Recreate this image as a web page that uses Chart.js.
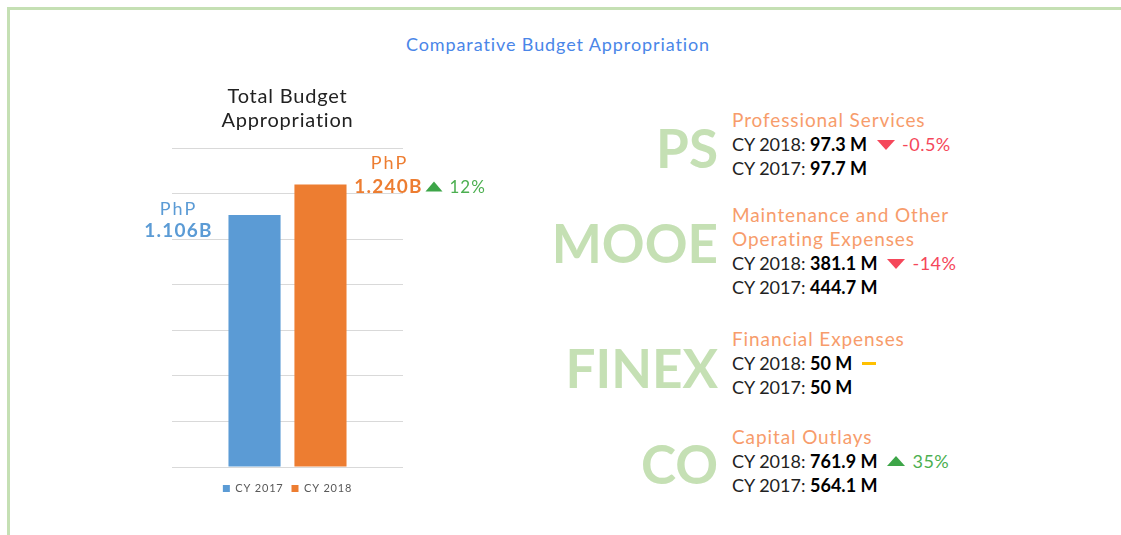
<!DOCTYPE html>
<html>
<head>
<meta charset="utf-8">
<script src="https://cdn.jsdelivr.net/npm/chart.js@4"></script>
<style>
  body { margin: 0; width: 1121px; height: 535px; background: #fff; font-family: Lato, sans-serif; overflow: hidden; position: relative; }
  .frame { position: absolute; left: 7px; top: 7px; right: 0; bottom: 0; border-top: 3px solid #c5e0b4; border-left: 3px solid #c5e0b4; }
  .heading { position: absolute; left: 358px; width: 400px; top: 33px; text-align: center; color: #4a86e8; font-size: 18px; letter-spacing: 0.9px; }
  #chartBox { position: absolute; left: 140px; top: 70px; width: 370px; height: 440px; }
  .abbr { position: absolute; right: 403px; color: #c5e0b4; font-weight: 700; font-size: 53px; line-height: 60px; }
  .info { position: absolute; left: 732px; font-size: 18px; line-height: 24px; color: #222; }
  .info .name { color: #f79c6b; font-size: 19px; letter-spacing: 0.9px; }
  .info b { color: #000; font-weight: 700; }
  .chg { display: inline-block; margin-left: 10px; letter-spacing: 0.5px; }
  .tri-down { display: inline-block; width: 0; height: 0; border-left: 9px solid transparent; border-right: 9px solid transparent; border-top: 10px solid #f5475a; margin-right: 7px; vertical-align: 1px; }
  .tri-up { display: inline-block; width: 0; height: 0; border-left: 9px solid transparent; border-right: 9px solid transparent; border-bottom: 10px solid #3da548; margin-right: 7px; vertical-align: 2px; }
  .dash { display: inline-block; width: 14px; height: 3px; background: #ffc000; vertical-align: 5px; }
</style>
</head>
<body>
<div class="frame"></div>
<div class="heading">Comparative Budget Appropriation</div>
<div id="chartBox"><canvas id="budgetChart"></canvas></div>
<div id="panel"></div>
<script>
// total budget, in billions of pesos
const years = ['CY 2017', 'CY 2018'];
const totals = [1.106, 1.240];
const totalLabels = ['1.106B', '1.240B'];
const totalChange = '12%';
const yTicks = { min: 0, max: 1.4, step: 0.2 };

// breakdown per expense class, in millions
const abbrs = ['PS', 'MOOE', 'FINEX', 'CO'];
const names = [['Professional Services'], ['Maintenance and Other', 'Operating Expenses'], ['Financial Expenses'], ['Capital Outlays']];
const cy2018 = ['97.3 M', '381.1 M', '50 M', '761.9 M'];
const cy2017 = ['97.7 M', '444.7 M', '50 M', '564.1 M'];
const changes = ['-0.5%', '-14%', '', '35%'];
const trends = ['down', 'down', 'flat', 'up'];

const barColors = ['#5b9bd5', '#ed7d31'];

// right panel
const groupTops = [108, 203, 327, 425];
const abbrTops = [118, 213, 338, 434];
const panel = document.getElementById('panel');
abbrs.forEach((a, i) => {
    const ab = document.createElement('div');
    ab.className = 'abbr';
    ab.style.top = abbrTops[i] + 'px';
    ab.textContent = a;
    panel.appendChild(ab);

    const info = document.createElement('div');
    info.className = 'info';
    info.style.top = groupTops[i] + 'px';
    let html = names[i].map(n => '<div class="name">' + n + '</div>').join('');
    let mark = '';
    if (trends[i] === 'down') mark = '<span class="chg" style="color:#f5475a"><span class="tri-down"></span>' + changes[i] + '</span>';
    else if (trends[i] === 'up') mark = '<span class="chg" style="color:#4caf50"><span class="tri-up"></span>' + changes[i] + '</span>';
    else mark = '<span class="chg"><span class="dash"></span></span>';
    html += '<div>CY 2018: <b>' + cy2018[i] + '</b>' + mark + '</div>';
    html += '<div>CY 2017: <b>' + cy2017[i] + '</b></div>';
    info.innerHTML = html;
    panel.appendChild(info);
});

// wider letter spacing, closer to the original typeface
const spacing = {
    id: 'spacing',
    beforeLayout(chart) { chart.ctx.letterSpacing = '0.8px'; },
    beforeDraw(chart) { chart.ctx.letterSpacing = '0.8px'; }
};

// labels next to the bars
const barLabels = {
    id: 'barLabels',
    afterDatasetsDraw(chart) {
        const ctx = chart.ctx;
        ctx.save();
        ctx.textAlign = 'center';
        ctx.textBaseline = 'middle';
        // CY 2017
        let bar = chart.getDatasetMeta(0).data[0];
        ctx.fillStyle = barColors[0];
        ctx.letterSpacing = '2px';
        ctx.font = '18px Lato';
        ctx.fillText('PhP', bar.x - 76, bar.y - 6);
        ctx.letterSpacing = '1.2px';
        ctx.font = 'bold 19px Lato';
        ctx.fillText(totalLabels[0], bar.x - 76, bar.y + 16);
        // CY 2018
        bar = chart.getDatasetMeta(1).data[0];
        ctx.fillStyle = barColors[1];
        ctx.letterSpacing = '2px';
        ctx.font = '18px Lato';
        ctx.fillText('PhP', bar.x + 69, bar.y - 21);
        ctx.letterSpacing = '1.2px';
        ctx.font = 'bold 19px Lato';
        ctx.fillText(totalLabels[1], bar.x + 68, bar.y + 2);
        const tx = bar.x + 105, ty = bar.y + 2;
        ctx.fillStyle = '#3da548';
        ctx.beginPath();
        ctx.moveTo(tx, ty + 5);
        ctx.lineTo(tx + 17, ty + 5);
        ctx.lineTo(tx + 8.5, ty - 5);
        ctx.closePath();
        ctx.fill();
        ctx.fillStyle = '#4caf50';
        ctx.letterSpacing = '1px';
        ctx.font = '17px Lato';
        ctx.textAlign = 'left';
        ctx.fillText(totalChange, tx + 24, ty + 1);
        ctx.restore();
    }
};

new Chart(document.getElementById('budgetChart'), {
    type: 'bar',
    data: {
        labels: [''],
        datasets: years.map((y, i) => ({
            label: y,
            data: [totals[i]],
            backgroundColor: barColors[i],
            categoryPercentage: 0.571,
            barPercentage: 0.79
        }))
    },
    options: {
        responsive: true,
        maintainAspectRatio: false,
        animation: false,
        layout: { padding: { left: 32, right: 107, top: 15, bottom: 6 } },
        scales: {
            x: { display: true, grid: { display: false }, border: { display: false }, ticks: { display: false } },
            y: {
                min: yTicks.min, max: yTicks.max,
                ticks: { stepSize: yTicks.step, display: false },
                grid: { color: '#d9d9d9', drawTicks: false },
                border: { display: false }
            }
        },
        plugins: {
            title: {
                display: true,
                text: ['Total Budget', 'Appropriation'],
                color: '#222',
                font: { family: 'Lato', size: 20, weight: 'normal', lineHeight: 1.2 },
                padding: { top: 0, bottom: 15 }
            },
            legend: {
                position: 'bottom',
                labels: { boxWidth: 7, boxHeight: 7, color: '#595959', font: { family: 'Lato', size: 11 }, padding: 8 }
            },
            tooltip: { enabled: false }
        }
    },
    plugins: [spacing, barLabels]
});
</script>
</body>
</html>
